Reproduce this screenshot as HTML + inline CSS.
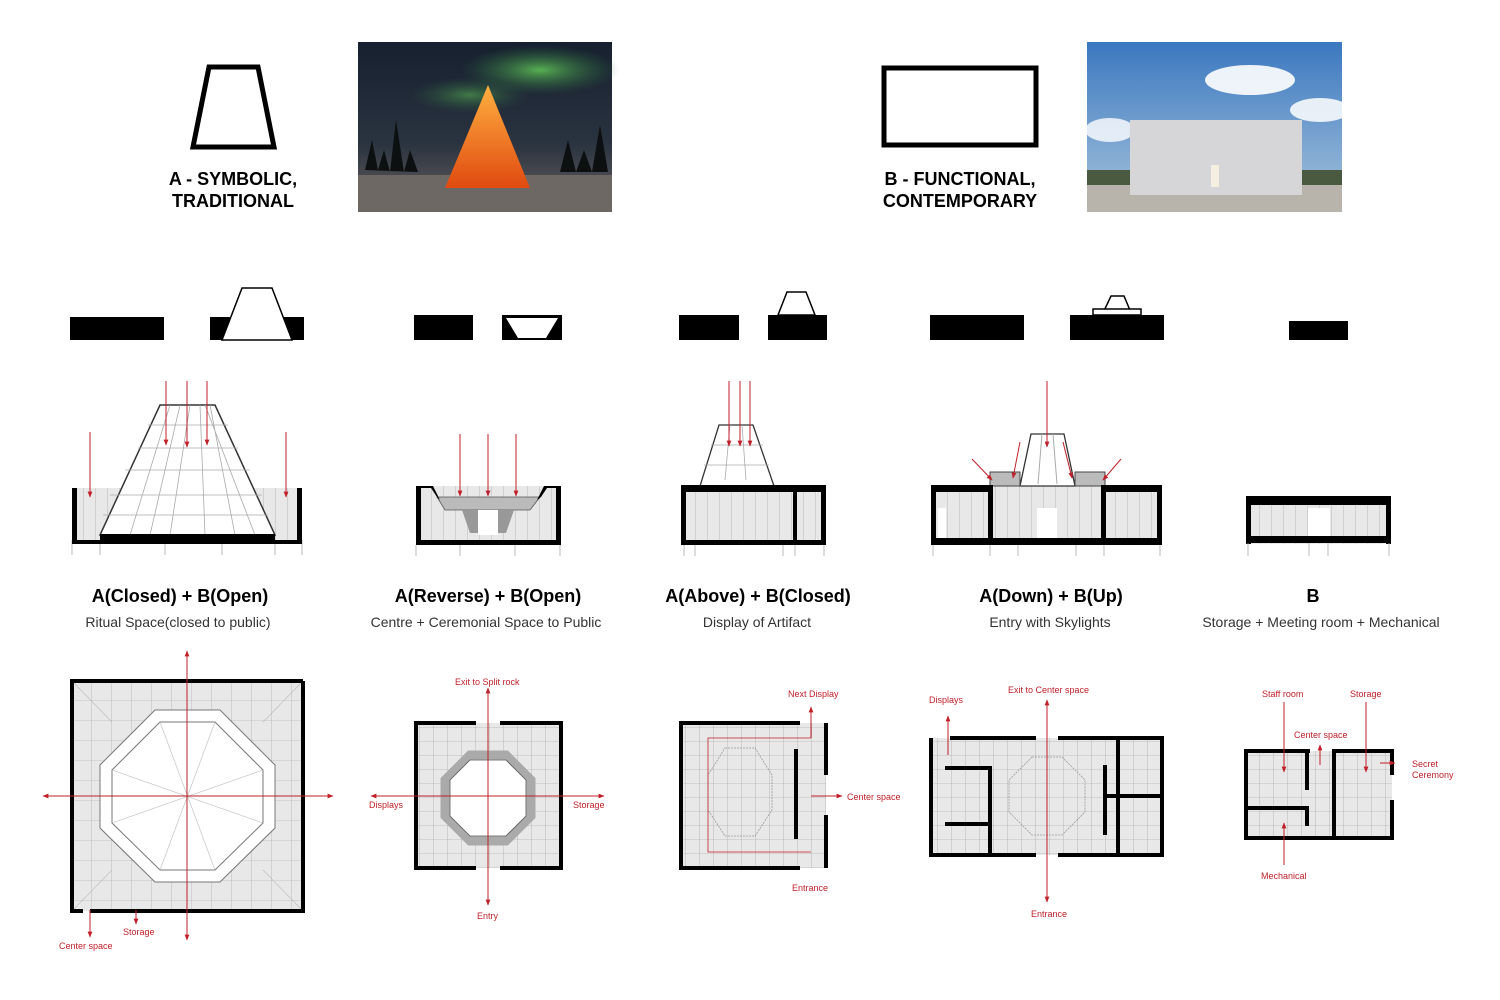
<!DOCTYPE html>
<html><head><meta charset="utf-8"><style>
html,body{margin:0;padding:0;background:#fff;}
svg{display:block;font-family:"Liberation Sans",Arial,sans-serif;}
.t{font-weight:bold;font-size:18px;fill:#000;text-anchor:middle}
.s{font-size:14px;fill:#333;text-anchor:middle}
.r{font-size:9px;fill:#c0202a}
.h{font-weight:bold;font-size:18px;fill:#000;text-anchor:middle}
</style></head><body>
<svg width="1500" height="1000" viewBox="0 0 1500 1000" xmlns="http://www.w3.org/2000/svg">
<defs>
<pattern id="g" width="14" height="14" patternUnits="userSpaceOnUse"><rect width="14" height="14" fill="#e8e8e8"/><path d="M14 0V14M0 14H14" stroke="#9a9a9a" stroke-width="0.6"/></pattern>
<pattern id="g2" width="20" height="20" patternUnits="userSpaceOnUse" x="72" y="681"><rect width="20" height="20" fill="#e8e8e8"/><path d="M20 0V20M0 20H20" stroke="#a0a0a0" stroke-width="0.6"/></pattern>
<pattern id="gv" width="12" height="60" patternUnits="userSpaceOnUse"><rect width="12" height="60" fill="#e8e8e8"/><path d="M12 0V60" stroke="#9a9a9a" stroke-width="0.6"/></pattern>
<marker id="a" viewBox="0 0 10 10" refX="9" refY="5" markerWidth="6" markerHeight="6" orient="auto" markerUnits="userSpaceOnUse"><path d="M0 1L10 5L0 9z" fill="#c0202a"/></marker>
<linearGradient id="sky1" x1="0" y1="0" x2="0" y2="1"><stop offset="0" stop-color="#16202e"/><stop offset="0.6" stop-color="#2a3340"/><stop offset="1" stop-color="#6a6260"/></linearGradient>
<radialGradient id="aur" cx="0.5" cy="0.5" r="0.5"><stop offset="0" stop-color="#5fbf55" stop-opacity="0.9"/><stop offset="1" stop-color="#2a6a40" stop-opacity="0"/></radialGradient>
<linearGradient id="tip" x1="0" y1="0" x2="0" y2="1"><stop offset="0" stop-color="#ffb040"/><stop offset="1" stop-color="#e04a10"/></linearGradient>
<linearGradient id="sky2" x1="0" y1="0" x2="0" y2="1"><stop offset="0" stop-color="#3b78c0"/><stop offset="1" stop-color="#a8c4dc"/></linearGradient>
</defs>

<!-- Top row -->
<polygon points="209,67 258,67 274,147 193,147" fill="none" stroke="#000" stroke-width="5"/>
<text class="h" x="233" y="185">A - SYMBOLIC,</text>
<text class="h" x="233" y="207">TRADITIONAL</text>
<rect x="358" y="42" width="254" height="170" fill="url(#sky1)"/>
<ellipse cx="540" cy="70" rx="80" ry="25" fill="url(#aur)"/>
<ellipse cx="470" cy="95" rx="60" ry="18" fill="url(#aur)" opacity="0.6"/>
<rect x="358" y="175" width="254" height="37" fill="#6e6864"/>
<path d="M365 170 L372 140 L378 170 L384 150 L390 172 L396 120 L404 172 L410 150 L418 172 Z" fill="#0c1010"/>
<path d="M560 172 L568 140 L576 172 L584 150 L592 172 L600 125 L608 172 Z" fill="#0c1010"/>
<polygon points="488,85 445,188 530,188" fill="url(#tip)"/>
<rect x="1087" y="42" width="255" height="170" fill="url(#sky2)"/>
<ellipse cx="1250" cy="80" rx="45" ry="15" fill="#fff" opacity="0.9"/>
<ellipse cx="1320" cy="110" rx="30" ry="12" fill="#fff" opacity="0.85"/>
<ellipse cx="1110" cy="130" rx="25" ry="12" fill="#fff" opacity="0.8"/>
<rect x="1087" y="170" width="255" height="15" fill="#4a5a40"/>
<rect x="1087" y="185" width="255" height="27" fill="#b8b4ac"/>
<rect x="1130" y="120" width="172" height="75" fill="#d6d6d8"/>
<rect x="1211" y="165" width="8" height="22" fill="#f4efe0"/>
<rect x="884" y="68" width="152" height="77" fill="none" stroke="#000" stroke-width="5"/>
<text class="h" x="960" y="185">B - FUNCTIONAL,</text>
<text class="h" x="960" y="207">CONTEMPORARY</text>

<!-- Massing row -->
<rect x="70" y="317" width="94" height="23"/>
<rect x="210" y="317" width="94" height="23"/>
<polygon points="242,288 272,288 292,340 222,340" fill="#fff" stroke="#000" stroke-width="1.5"/>
<rect x="414" y="315" width="59" height="25"/>
<rect x="502" y="315" width="60" height="25"/>
<polygon points="506,318 558,318 546,338 518,338" fill="#fff"/>
<rect x="679" y="315" width="60" height="25"/>
<rect x="768" y="315" width="59" height="25"/>
<polygon points="787,292 806,292 815,315 778,315" fill="#fff" stroke="#000" stroke-width="1.5"/>
<rect x="930" y="315" width="94" height="25"/>
<rect x="1070" y="315" width="94" height="25"/>
<polygon points="1111,296 1124,296 1132,315 1102,315" fill="#fff" stroke="#000" stroke-width="1.5"/>
<rect x="1093" y="309" width="48" height="6" fill="#fff" stroke="#000" stroke-width="1.5"/>
<rect x="1289" y="321" width="59" height="19"/>

<!-- Sections -->
<g stroke="#aaa" stroke-width="0.8" fill="none">
<rect x="72" y="488" width="230" height="52" fill="url(#gv)" stroke="none"/>
<polygon points="160,405 215,405 275,535 100,535" fill="#fff" stroke="#333" stroke-width="1.5"/>
<path d="M170 405L130 535M180 405L150 535M190 405L170 535M200 405L205 535M210 405L235 535M205 405L255 535M148 425H228M138 448H238M125 470H250M110 495H262M103 515H268"/>
<path d="M72 555V540M100 555V540M165 555V540M222 555V540M275 555V540M302 555V540"/>
</g>
<rect x="100" y="534" width="175" height="10"/>
<rect x="72" y="488" width="5" height="56"/><rect x="297" y="488" width="5" height="56"/>
<rect x="72" y="540" width="230" height="4"/>
<rect x="416" y="486" width="145" height="55" fill="url(#gv)"/>
<polygon points="437,497 540,497 530,510 445,510" fill="#bbb" stroke="#555" stroke-width="0.8"/>
<rect x="478" y="510" width="20" height="25" fill="#fff"/>
<polygon points="462,510 478,510 478,533 470,533" fill="#999"/>
<polygon points="498,510 514,510 506,533 498,533" fill="#999"/>
<path d="M416 486H433L440 500L437 497L431 488H421V545H416Z"/>
<path d="M561 486H544L537 500L541 497L547 488H556V545H561Z"/>
<rect x="416" y="540" width="145" height="5"/>
<g stroke="#aaa" stroke-width="0.8"><path d="M416 556V545M460 556V545M515 556V545M560 556V545"/></g>
<rect x="681" y="490" width="145" height="53" fill="url(#gv)"/>
<polygon points="719,425 753,425 774,486 700,486" fill="#fff" stroke="#333" stroke-width="1.3"/>
<path d="M730 425L725 480M742 425L746 480M711 445H763M704 465H769" stroke="#aaa" stroke-width="0.8"/>
<rect x="681" y="485" width="145" height="7"/>
<rect x="681" y="485" width="5" height="60"/><rect x="821" y="485" width="5" height="60"/><rect x="793" y="490" width="4" height="55"/>
<rect x="681" y="540" width="145" height="5"/>
<g stroke="#aaa" stroke-width="0.8"><path d="M684 556V545M695 556V545M783 556V545M795 556V545M824 556V545"/></g>
<rect x="931" y="486" width="231" height="57" fill="url(#gv)"/>
<polygon points="1031,434 1064,434 1075,486 1020,486" fill="#fff" stroke="#333" stroke-width="1.3"/>
<path d="M1042 434L1038 484M1053 434L1057 484" stroke="#aaa"/>
<rect x="990" y="472" width="30" height="14" fill="#bbb" stroke="#444"/>
<rect x="1075" y="472" width="30" height="14" fill="#bbb" stroke="#444"/>
<rect x="931" y="485" width="60" height="7"/><rect x="1103" y="485" width="59" height="7"/>
<rect x="931" y="485" width="5" height="60"/><rect x="1157" y="485" width="5" height="60"/>
<rect x="988" y="485" width="5" height="60"/><rect x="1101" y="485" width="5" height="60"/>
<rect x="1037" y="508" width="20" height="30" fill="#fff"/>
<rect x="938" y="508" width="8" height="30" fill="#fff"/>
<rect x="931" y="538" width="231" height="7"/>
<g stroke="#aaa" stroke-width="0.8"><path d="M933 556V545M990 556V545M1018 556V545M1076 556V545M1104 556V545M1160 556V545"/></g>
<rect x="1246" y="496" width="145" height="48" fill="url(#gv)"/>
<rect x="1246" y="496" width="145" height="9"/>
<rect x="1246" y="496" width="5" height="48"/><rect x="1386" y="496" width="5" height="48"/>
<rect x="1308" y="508" width="22" height="28" fill="#fff"/>
<rect x="1246" y="536" width="145" height="7"/>
<g stroke="#aaa" stroke-width="0.8"><path d="M1248 556V543M1309 556V543M1328 556V543M1389 556V543"/></g>

<!-- section arrows -->
<g stroke="#c0202a" stroke-width="1" marker-end="url(#a)">
<path d="M166 381V445"/><path d="M187 381V447"/><path d="M207 381V445"/><path d="M90 432V497"/><path d="M286 432V497"/>
<path d="M460 434V496"/><path d="M488 434V496"/><path d="M516 434V496"/>
<path d="M729 381V446"/><path d="M740 381V446"/><path d="M750 381V446"/>
<path d="M1047 381V447"/><path d="M972 459L992 480"/><path d="M1020 442L1013 478"/><path d="M1063 442L1072 478"/><path d="M1121 459L1103 480"/>
</g>

<!-- titles -->
<text class="t" x="180" y="602">A(Closed) + B(Open)</text>
<text class="s" x="178" y="627">Ritual Space(closed to public)</text>
<text class="t" x="488" y="602">A(Reverse) + B(Open)</text>
<text class="s" x="486" y="627">Centre + Ceremonial Space to Public</text>
<text class="t" x="758" y="602">A(Above) + B(Closed)</text>
<text class="s" x="757" y="627">Display of Artifact</text>
<text class="t" x="1051" y="602">A(Down) + B(Up)</text>
<text class="s" x="1050" y="627">Entry with Skylights</text>
<text class="t" x="1313" y="602">B</text>
<text class="s" x="1321" y="627">Storage + Meeting room + Mechanical</text>

<!-- Plan 1 -->
<rect x="72" y="681" width="231" height="230" fill="url(#g2)"/>
<polygon points="155,710 220,710 275,765 275,828 220,882 155,882 100,828 100,765" fill="#fff" stroke="#777" stroke-width="1"/>
<polygon points="160,722 215,722 263,770 263,823 215,870 160,870 112,823 112,770" fill="#fff" stroke="#777" stroke-width="1"/>
<g stroke="#bbb" stroke-width="0.6"><path d="M112 770L263 823M112 823L263 770M160 722L215 870M215 722L160 870M72 681L112 722M303 681L263 722M72 911L112 870M303 911L263 870M187 722V870M112 796H263"/></g>
<path d="M303 681H72V911H83M90 911H303V681" fill="none" stroke="#000" stroke-width="4"/>
<g stroke="#c0202a" stroke-width="1" marker-end="url(#a)">
<path d="M187 796V651"/><path d="M187 796V940"/><path d="M187 796H43"/><path d="M187 796H333"/><path d="M90 910V937"/><path d="M136 910V924"/>
</g>
<text class="r" x="59" y="949">Center space</text>
<text class="r" x="123" y="935">Storage</text>
<!-- Plan 2 -->
<rect x="416" y="723" width="145" height="145" fill="url(#g)"/>
<polygon points="470,755 506,755 531,780 531,816 506,841 470,841 445,816 445,780" fill="#fff" stroke="#aaa" stroke-width="9"/>
<polygon points="470,760 506,760 526,780 526,816 506,836 470,836 450,816 450,780" fill="#fff" stroke="#555" stroke-width="0.8"/>
<path d="M476 723H416V868H476M500 723H561V868H500" fill="none" stroke="#000" stroke-width="4"/>
<g stroke="#c0202a" stroke-width="1" marker-end="url(#a)"><path d="M488 796V688"/><path d="M488 796V905"/><path d="M488 796H371"/><path d="M488 796H604"/></g>
<text class="r" x="455" y="685">Exit to Split rock</text>
<text class="r" x="369" y="808">Displays</text>
<text class="r" x="573" y="808">Storage</text>
<text class="r" x="477" y="919">Entry</text>
<!-- Plan 3 -->
<rect x="681" y="723" width="145" height="145" fill="url(#g)"/>
<polygon points="725,748 755,748 772,775 772,810 755,836 725,836 708,810 708,775" fill="none" stroke="#999" stroke-width="0.8" stroke-dasharray="2,1"/>
<path d="M811 738H708V852H811" fill="none" stroke="#c0202a" stroke-width="0.8"/>
<path d="M800 723H681V868H800M826 723V775M826 815V868" fill="none" stroke="#000" stroke-width="4"/>
<rect x="794" y="749" width="4" height="90"/>
<g stroke="#c0202a" stroke-width="1" marker-end="url(#a)"><path d="M811 738V707"/><path d="M811 796H842"/></g>
<text class="r" x="788" y="697">Next Display</text>
<text class="r" x="847" y="800">Center space</text>
<text class="r" x="792" y="891">Entrance</text>
<!-- Plan 4 -->
<rect x="931" y="738" width="231" height="117" fill="url(#g)"/>
<polygon points="1032,757 1062,757 1085,780 1085,812 1062,835 1032,835 1009,812 1009,780" fill="none" stroke="#999" stroke-width="0.8" stroke-dasharray="2,1"/>
<path d="M950 738H1036M1058 738H1162V855H1058M1036 855H931V738" fill="none" stroke="#000" stroke-width="4"/>
<path d="M945 768H990V855M945 824H990M1105 765V835M1105 796H1162M1118 738V855" fill="none" stroke="#000" stroke-width="4"/>
<g stroke="#c0202a" stroke-width="1" marker-end="url(#a)"><path d="M1047 796V700"/><path d="M1047 796V902"/><path d="M948 755V716"/></g>
<text class="r" x="1008" y="693">Exit to Center space</text>
<text class="r" x="929" y="703">Displays</text>
<text class="r" x="1031" y="917">Entrance</text>
<!-- Plan 5 -->
<rect x="1246" y="751" width="146" height="87" fill="url(#g)"/>
<path d="M1310 751H1246V838H1392V800M1392 775V751H1334V838" fill="none" stroke="#000" stroke-width="4"/>
<path d="M1307 751V790M1246 808H1307V826M1334 790V838" fill="none" stroke="#000" stroke-width="4"/>
<g stroke="#c0202a" stroke-width="1" marker-end="url(#a)"><path d="M1284 702V772"/><path d="M1366 702V772"/><path d="M1320 765V745"/><path d="M1284 865V823"/><path d="M1380 763H1395"/></g>
<text class="r" x="1262" y="697">Staff room</text>
<text class="r" x="1350" y="697">Storage</text>
<text class="r" x="1294" y="738">Center space</text>
<text class="r" x="1412" y="767">Secret</text>
<text class="r" x="1412" y="778">Ceremony</text>
<text class="r" x="1261" y="879">Mechanical</text>
</svg>
</body></html>
